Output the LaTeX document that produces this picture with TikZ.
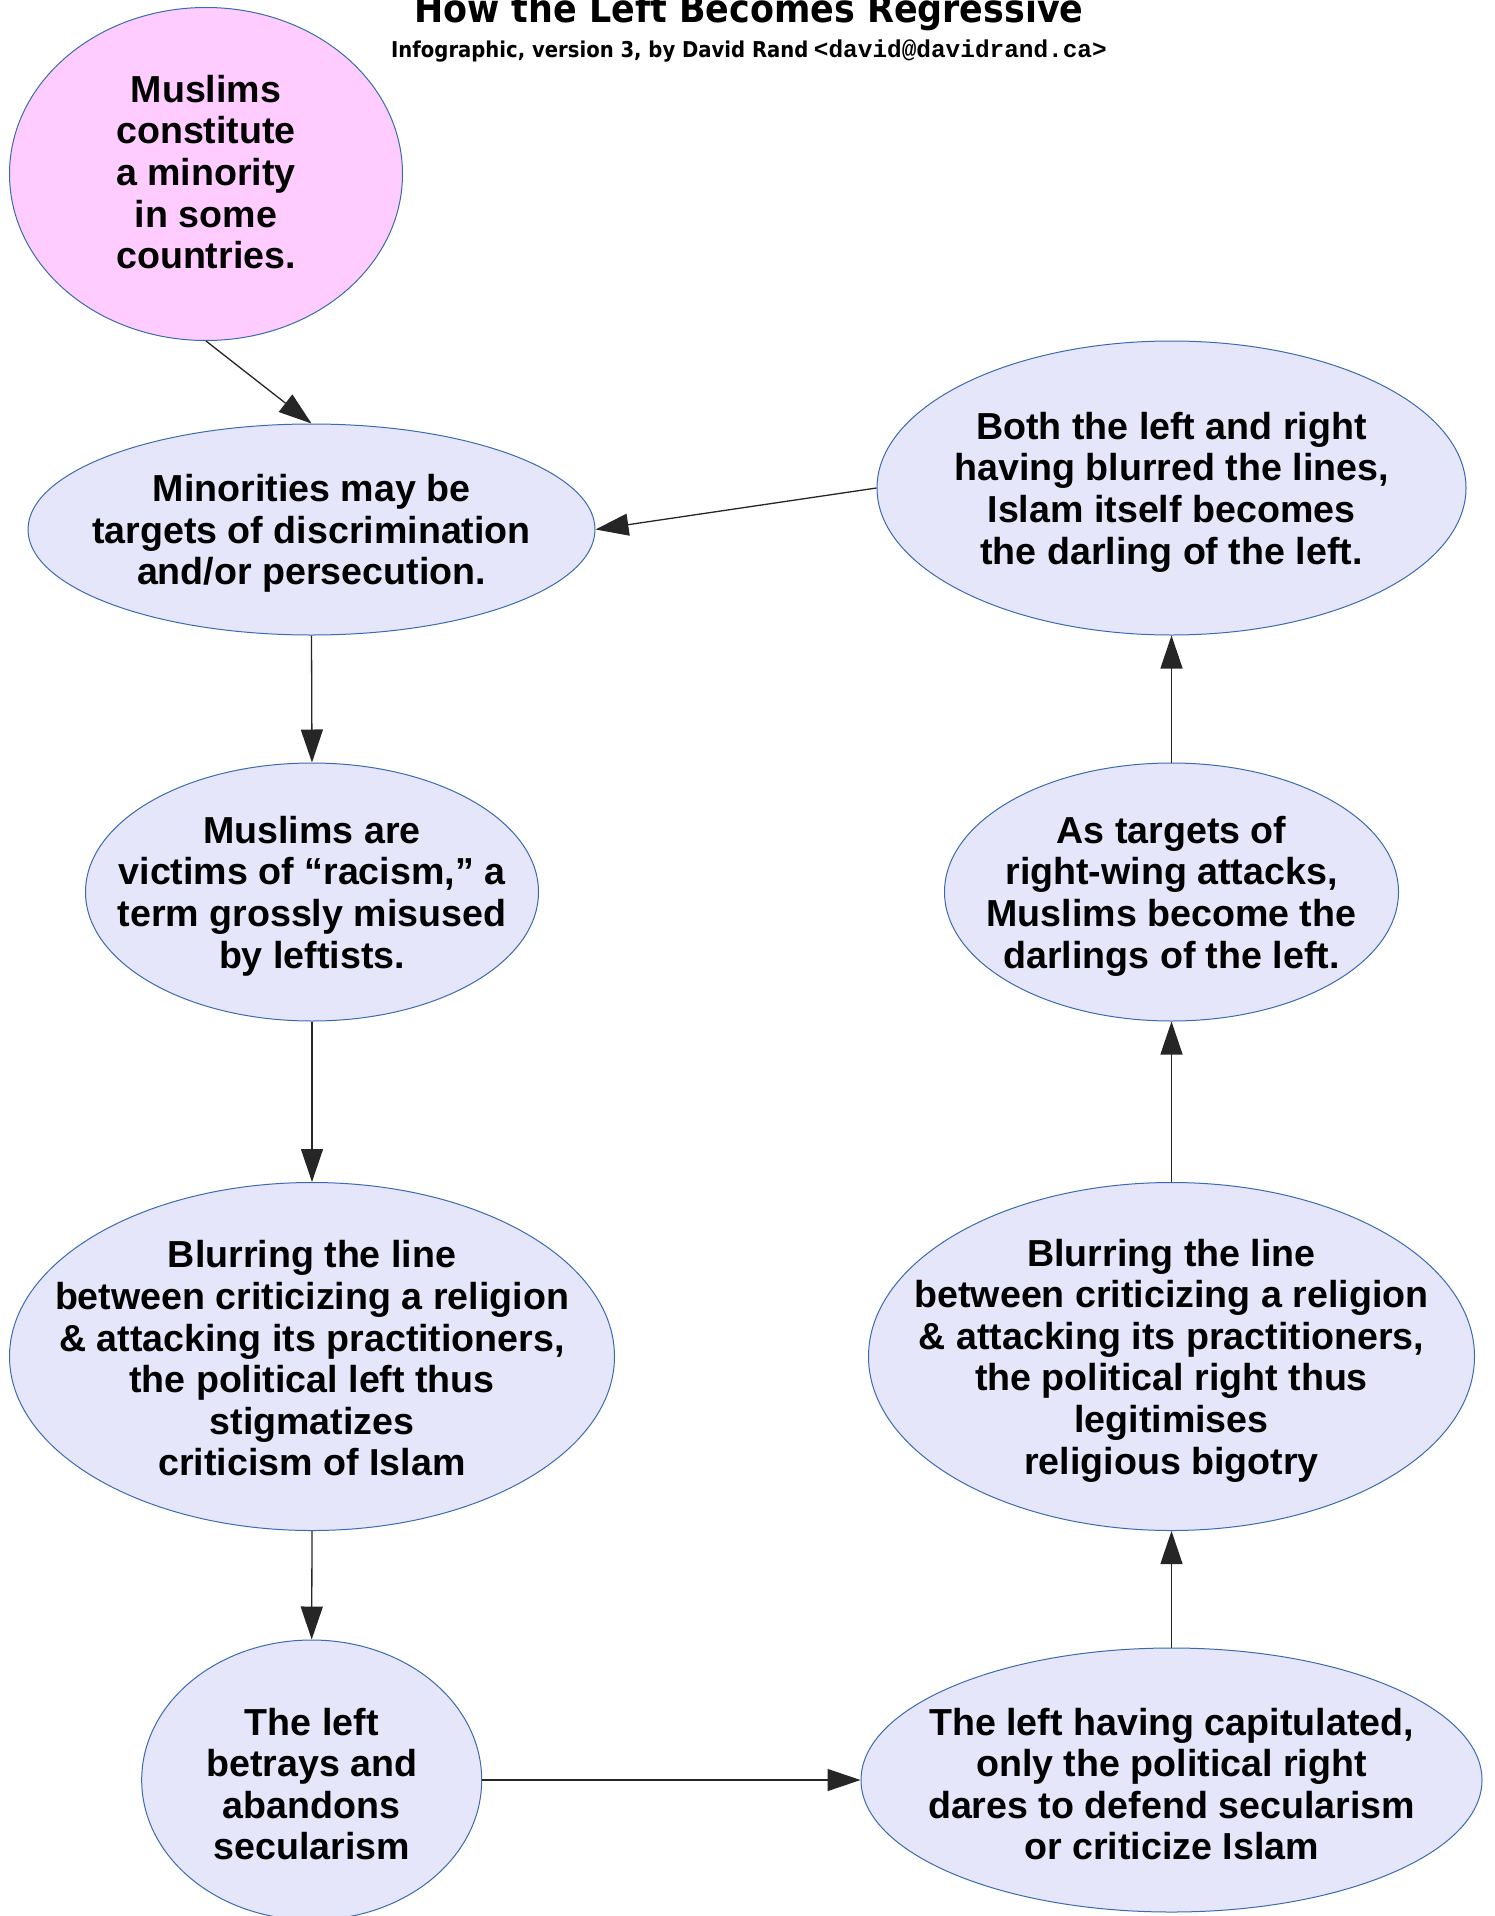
\documentclass[tikz,border=0pt]{standalone}
\usepackage{fontspec}
\setmainfont{Liberation Sans}
\newfontfamily\headfont{DejaVu Sans}[FakeStretch=0.9]
\newfontfamily\mailfont{Liberation Mono}
\usetikzlibrary{arrows.meta,shapes.geometric}

\definecolor{bubblelav}{HTML}{E6E6FA}
\definecolor{bubblepink}{HTML}{FFCCFF}
\definecolor{bubbleline}{HTML}{3A6BB0}

\tikzset{
  bubble/.style={ellipse, draw=bubbleline, line width=0.5pt, fill=bubblelav, inner sep=0pt},
  bubbletext/.style={align=center, inner sep=0pt, yshift=-2pt, font=\bfseries\fontsize{18.8}{20.8}\selectfont},
  link/.style={draw=black!85, line width=0.65pt, -{Triangle[length=16.5pt,width=11pt]}}
}

\begin{document}
\begin{tikzpicture}[x=0.5pt,y=-0.5pt]
    \useasboundingbox (0,0) rectangle (1494,1916);

    % Title
    \node[anchor=base, inner sep=0pt, font=\headfont\bfseries\fontsize{19.4}{22}\selectfont] (title) at (749,23) {How the Left Becomes Regressive};
    \node[anchor=base, inner sep=0pt] (credit) at (749,58) {{\headfont\bfseries\fontsize{10.9}{13}\selectfont Infographic, version 3, by David Rand} {\mailfont\bfseries\fontsize{12.2}{13}\selectfont <david@davidrand.ca>}};

    % Left column
    \node[bubble, fill=bubblepink, minimum width=196.5pt, minimum height=166.5pt,
      label={[bubbletext, yshift=3pt]center:{Muslims\\constitute\\a minority\\in some\\countries.}}] (minority) at (206,174) {};
    \node[bubble, minimum width=283.5pt, minimum height=105.5pt,
      label={[bubbletext]center:{Minorities may be\\targets of discrimination\\and/or persecution.}}] (targets) at (311.5,529.5) {};
    \node[bubble, minimum width=226.5pt, minimum height=129pt,
      label={[bubbletext]center:{Muslims are\\victims of “racism,” a\\term grossly misused\\by leftists.}}] (victims) at (312,892) {};
    \node[bubble, minimum width=302.5pt, minimum height=174pt,
      label={[bubbletext, yshift=1pt]center:{Blurring the line\\between criticizing a religion\\\& attacking its practitioners,\\the political left thus\\stigmatizes\\criticism of Islam}}] (blurleft) at (312,1356.5) {};
    \node[bubble, minimum width=170pt, minimum height=140pt,
      label={[bubbletext]center:{The left\\betrays and\\abandons\\secularism}}] (betrays) at (311.7,1780) {};

    % Right column
    \node[bubble, minimum width=310.5pt, minimum height=132pt,
      label={[bubbletext]center:{The left having capitulated,\\only the political right\\dares to defend secularism\\or criticize Islam}}] (capitulated) at (1171.5,1780) {};
    \node[bubble, minimum width=303pt, minimum height=174pt,
      label={[bubbletext]center:{Blurring the line\\between criticizing a religion\\\& attacking its practitioners,\\the political right thus\\legitimises\\religious bigotry}}] (blurright) at (1171.5,1356.5) {};
    \node[bubble, minimum width=227pt, minimum height=129pt,
      label={[bubbletext]center:{As targets of\\right-wing attacks,\\Muslims become the\\darlings of the left.}}] (darlings) at (1171.5,892) {};
    \node[bubble, minimum width=294.5pt, minimum height=147pt,
      label={[bubbletext]center:{Both the left and right\\having blurred the lines,\\Islam itself becomes\\the darling of the left.}}] (islam) at (1171.5,488) {};

    % Draw links
    \draw[link] (minority.south) -- (targets.north);
    \draw[link] (targets.south) -- (victims.north);
    \draw[link] (victims.south) -- (blurleft.north);
    \draw[link] (blurleft.south) -- (betrays.north);
    \draw[link] (betrays.east) -- (capitulated.west);
    \draw[link] (capitulated.north) -- (blurright.south);
    \draw[link] (blurright.north) -- (darlings.south);
    \draw[link] (darlings.north) -- (islam.south);
    \draw[link] (islam.west) -- (targets.east);
\end{tikzpicture}
\end{document}
